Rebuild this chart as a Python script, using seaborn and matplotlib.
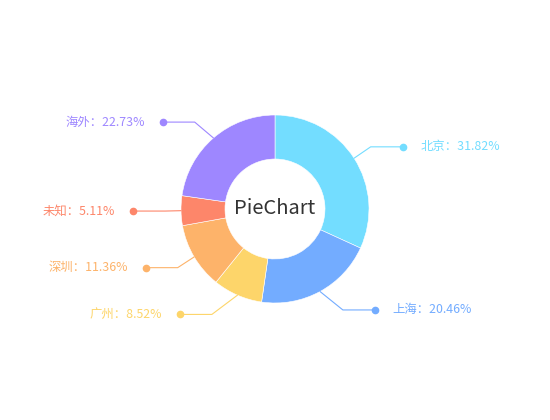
import numpy as np
import matplotlib
matplotlib.use("Agg")
import matplotlib.pyplot as plt
import seaborn as sns

# ---- data ----
categories = ["北京", "上海", "广州", "深圳", "未知", "海外"]
values = [31.82, 20.46, 8.52, 11.36, 5.11, 22.73]
colors = ["#73DDFF", "#73ACFF", "#FDD56A", "#FDB36A", "#FD866A", "#9E87FF"]
center_title = "PieChart"

sns.set_theme(style="white")
plt.rcParams["font.family"] = ["Noto Sans CJK SC", "DejaVu Sans"]

W, H = 550, 420
fig = plt.figure(figsize=(W / 100, H / 100), dpi=100)
ax = fig.add_axes([0, 0, 1, 1])

cx, cy = 275, H - 209
r_out, r_in = 94, 50
palette = sns.color_palette(colors)

wedges, _ = ax.pie(
    values, colors=palette, startangle=90, counterclock=False,
    radius=r_out, center=(cx, cy), frame=True,
    wedgeprops=dict(width=r_out - r_in, edgecolor="white", linewidth=0.4),
)
ax.set_xlim(0, W)
ax.set_ylim(0, H)
ax.set_aspect("equal")
ax.axis("off")

# label layout (echarts-like: label y from radial length, x on a circle)
r_lab = 115      # radius used for label height
r_dot = 142      # dots aligned on this circle
len2 = 32        # horizontal segment length
gap = 18         # dot to text

total = sum(values)
for w, cat, v, col in zip(wedges, categories, values, colors):
    ang = np.deg2rad((w.theta1 + w.theta2) / 2)
    c, s = np.cos(ang), np.sin(ang)
    side = 1 if c >= 0 else -1
    p0 = (cx + r_out * c, cy + r_out * s)
    dy = r_lab * s
    dx = np.sqrt(max(r_dot ** 2 - dy ** 2, 0))
    p2 = (cx + side * dx, cy + dy)
    p1 = (p2[0] - side * len2, p2[1])
    ax.plot([p0[0], p1[0], p2[0]], [p0[1], p1[1], p2[1]], color=col, lw=0.8)
    ax.plot([p2[0]], [p2[1]], "o", color=col, ms=4.5, mec=col)
    ax.text(p2[0] + side * gap, p2[1], f"{cat}：{v / total * 100:.2f}%",
            ha="left" if side > 0 else "right", va="center",
            fontsize=8.9, color=col)

ax.text(cx, cy, center_title, ha="center", va="center", fontsize=14.5,
        color="#333333", fontweight=500)

fig.savefig("out.png", dpi=100, facecolor="white")
